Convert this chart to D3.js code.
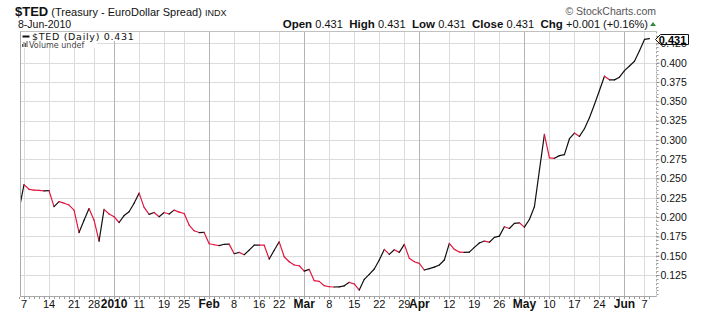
<!DOCTYPE html>
<html>
<head>
<meta charset="utf-8">
<script src="https://cdnjs.cloudflare.com/ajax/libs/d3/7.8.5/d3.min.js"></script>
<style>
	body { margin: 0; background: #fff; }
	svg { display: block; font-family: "Liberation Sans", Arial, sans-serif; }
</style>
</head>
<body>
<div id="chart"></div>
<script>
//------------------------------------------------------------------------------
// Data: $TED daily close, 4-Dec-2009 .. 8-Jun-2010
//------------------------------------------------------------------------------

var first_day = "2009-12-04";
var last_day = "2010-06-08";
var holidays = ["2009-12-25", "2010-01-01", "2010-01-18", "2010-02-15", "2010-04-02", "2010-05-31"];

var ted_close = [
	0.209,
	0.242, 0.236, 0.235, 0.2345, 0.234,
	0.2343, 0.2135, 0.220, 0.218, 0.2156,
	0.209, 0.180, 0.196, 0.211,
	0.196, 0.169, 0.210, 0.204,
	0.2005, 0.193, 0.202, 0.207, 0.218,
	0.231, 0.2126, 0.2036, 0.206, 0.2005,
	0.206, 0.204, 0.209, 0.2065,
	0.2047, 0.1897, 0.1823, 0.180, 0.1802,
	0.1655, 0.1642, 0.163, 0.1648, 0.165,
	0.1526, 0.1543, 0.1513, 0.1573, 0.1638,
	0.1638, 0.1636, 0.1457, 0.157,
	0.168, 0.1487, 0.1422, 0.138, 0.137,
	0.130, 0.1323, 0.1177, 0.1168, 0.1112,
	0.1098, 0.1095, 0.1097, 0.111, 0.1155,
	0.1134, 0.1056, 0.1194, 0.1258, 0.1328,
	0.1444, 0.1582, 0.1517, 0.1578, 0.1543,
	0.1647, 0.1466, 0.1422,
	0.140,
	0.1315, 0.1332, 0.1353, 0.138, 0.1444,
	0.166, 0.1582, 0.1547, 0.1543, 0.1547,
	0.1608, 0.1665, 0.169, 0.1675, 0.1737,
	0.1754, 0.1875, 0.1853, 0.1918, 0.1926,
	0.1870, 0.1969, 0.2133, 0.2606, 0.307,
	0.2766, 0.2761, 0.2796, 0.2809, 0.3015,
	0.3088, 0.3045, 0.3144, 0.3286, 0.3458,
	0.3639, 0.3824, 0.3777, 0.3777, 0.3811,
	0.3897, 0.3957, 0.4018, 0.4155,
	0.430, 0.431
];

var tick_dates = ["2009-12-07", "2009-12-14", "2009-12-21", "2009-12-28", "2010-01-04", "2010-01-11",
	"2010-01-19", "2010-01-25", "2010-02-01", "2010-02-08", "2010-02-16", "2010-02-22", "2010-03-01",
	"2010-03-08", "2010-03-15", "2010-03-22", "2010-03-29", "2010-04-01", "2010-04-12", "2010-04-19",
	"2010-04-26", "2010-05-03", "2010-05-10", "2010-05-17", "2010-05-24", "2010-06-01", "2010-06-07"];
var tick_labels = ["7", "14", "21", "28", "2010", "11", "19", "25", "Feb", "8", "16", "22", "Mar",
	"8", "15", "22", "29", "Apr", "12", "19", "26", "May", "10", "17", "24", "Jun", "7"];
var month_labels = ["2010", "Feb", "Mar", "Apr", "May", "Jun"];

var y_ticks = [0.125, 0.150, 0.175, 0.200, 0.225, 0.250, 0.275, 0.300, 0.325, 0.350, 0.375, 0.400, 0.425];

var last_close = "0.431";
var header_quote = [["Open", "0.431"], ["High", "0.431"], ["Low", "0.431"], ["Close", "0.431"], ["Chg", "+0.001 (+0.16%)"]];


//------------------------------------------------------------------------------
// Plotting
//------------------------------------------------------------------------------

function trading_days() {
	var fmt = d3.timeFormat("%Y-%m-%d");
	var start = d3.timeParse("%Y-%m-%d")(first_day);
	var end = d3.timeDay.offset(d3.timeParse("%Y-%m-%d")(last_day), 1);
	return d3.timeDay.range(start, end)
		.filter(function(d) { return d.getDay() != 0 && d.getDay() != 6; })
		.map(fmt)
		.filter(function(s) { return holidays.indexOf(s) < 0; });
}

function plot_ted(div) {
	var width = 706, height = 318;
	var left = 20, right = 656.5, top = 31.5, bottom = 296.5;

	var days = trading_days();
	var data = ted_close.map(function(v, i) { return {day: days[i], i: i, v: v}; });

	var svg = d3.select(div).append("svg")
		.attr("width", width)
		.attr("height", height);

	svg.append("rect").attr("width", width).attr("height", height).attr("fill", "#fff");

	// index of trading day -> pixel
	var x = d3.scaleLinear()
		.domain([0.2, 127.4])
		.range([left, right]);

	var y = d3.scaleLinear()
		.domain([0.0972, 0.4403])
		.range([bottom, top]);

	var grid = svg.append("g");

	grid.selectAll("line.h").data(y_ticks).join("line")
		.attr("x1", left).attr("x2", right)
		.attr("y1", function(d) { return Math.round(y(d)) + 0.5; })
		.attr("y2", function(d) { return Math.round(y(d)) + 0.5; })
		.attr("stroke", "#dcdcdc");

	var ticks = tick_dates.map(function(d, k) {
		return {i: days.indexOf(d), label: tick_labels[k], month: month_labels.indexOf(tick_labels[k]) >= 0};
	});

	grid.selectAll("line.v").data(ticks).join("line")
		.attr("x1", function(d) { return Math.round(x(d.i)) + 0.5; })
		.attr("x2", function(d) { return Math.round(x(d.i)) + 0.5; })
		.attr("y1", top).attr("y2", bottom)
		.attr("stroke", function(d) { return d.month ? "#b4b4b4" : "#dcdcdc"; });

	// frame
	svg.append("line").attr("x1", left + 0.5).attr("x2", left + 0.5).attr("y1", top).attr("y2", bottom)
		.attr("stroke", "#a8a8a8");
	svg.append("line").attr("x1", left).attr("x2", right).attr("y1", top).attr("y2", top)
		.attr("stroke", "#c0c0c0");
	svg.append("line").attr("x1", left).attr("x2", right).attr("y1", bottom).attr("y2", bottom)
		.attr("stroke", "#a8a8a8");
	svg.append("line").attr("x1", right).attr("x2", right).attr("y1", top).attr("y2", bottom)
		.attr("stroke", "#a8a8a8").attr("stroke-dasharray", "2,2");

	// day ticks along the bottom
	svg.selectAll("line.dt").data(d3.range(days.length)).join("line")
		.attr("x1", function(i) { return Math.round(x(i)) + 0.5; })
		.attr("x2", function(i) { return Math.round(x(i)) + 0.5; })
		.attr("y1", bottom + 0.5).attr("y2", bottom + 2.5)
		.attr("stroke", "#999");

	// minor ticks on the right axis
	svg.selectAll("line.mt").data(d3.range(0.100, 0.440, 0.005)).join("line")
		.attr("x1", right).attr("x2", right + 2)
		.attr("y1", function(d) { return Math.round(y(d)) + 0.5; })
		.attr("y2", function(d) { return Math.round(y(d)) + 0.5; })
		.attr("stroke", "#999");

	// price line, black on up days, red on down days
	svg.append("clipPath").attr("id", "plot_clip")
		.append("rect").attr("x", left + 1).attr("y", top).attr("width", right - left - 1).attr("height", bottom - top);

	var line = d3.line()
		.x(function(d) { return x(d.i); })
		.y(function(d) { return y(d.v); });

	var pairs = d3.pairs(data);
	svg.append("g").attr("clip-path", "url(#plot_clip)")
		.selectAll("path").data(pairs).join("path")
		.attr("d", line)
		.attr("fill", "none")
		.attr("stroke-width", 1.2)
		.attr("stroke-linecap", "round")
		.attr("stroke", function(p) { return p[1].v < p[0].v ? "#e3173f" : "#111"; });

	// x axis labels
	svg.selectAll("text.xl").data(ticks).join("text")
		.attr("x", function(d) { return x(d.i); })
		.attr("y", 308)
		.attr("text-anchor", "middle")
		.attr("font-size", function(d) { return d.month ? "12px" : "11px"; })
		.attr("font-weight", function(d) { return d.month ? "bold" : "normal"; })
		.attr("fill", "#111")
		.text(function(d) { return d.label; });

	// y axis
	var y_axis = d3.axisRight(y)
		.tickValues(y_ticks)
		.tickSize(3)
		.tickPadding(1)
		.tickFormat(d3.format(".3f"));

	var gy = svg.append("g")
		.attr("transform", "translate(" + right + ",0)")
		.call(y_axis);
	gy.select(".domain").remove();
	gy.selectAll("line").attr("stroke", "#888");
	gy.selectAll("text").attr("font-size", "10.5px").attr("font-family", "Liberation Sans, Arial, sans-serif").attr("fill", "#111");

	// last value marker
	var ly = Math.round(y(+last_close)) + 0.5;
	svg.append("path")
		.attr("d", "M" + (right - 1) + "," + ly + " L" + (right + 4) + "," + (ly - 5) + " L" + 688.5 + "," + (ly - 5) +
			" L" + 688.5 + "," + (ly + 5) + " L" + (right + 4) + "," + (ly + 5) + " Z")
		.attr("fill", "#fff").attr("stroke", "#111");
	svg.append("text").attr("x", 672.5).attr("y", ly + 4)
		.attr("text-anchor", "middle").attr("font-size", "11px").attr("font-weight", "bold")
		.text(last_close);

	// legend
	svg.append("rect").attr("x", left + 1).attr("y", top + 0.5).attr("width", 118).attr("height", 9).attr("fill", "#fff");
	svg.append("rect").attr("x", left + 1).attr("y", top + 9.5).attr("width", 76).attr("height", 7).attr("fill", "#fff");
	svg.append("line").attr("x1", 22.5).attr("x2", 29.5).attr("y1", 36.5).attr("y2", 36.5)
		.attr("stroke", "#111").attr("stroke-width", 2);
	svg.append("text").attr("x", 32).attr("y", 39.5)
		.attr("font-family", "DejaVu Sans, sans-serif").attr("font-size", "9.5px")
		.attr("letter-spacing", "0.7px").attr("fill", "#111")
		.text("$TED (Daily) " + last_close);
	svg.selectAll("rect.vb").data([3, 5, 4, 6]).join("rect")
		.attr("x", function(d, k) { return 22 + k * 1.5; })
		.attr("y", function(d) { return 47 - d; })
		.attr("width", 1).attr("height", function(d) { return d; })
		.attr("fill", "#555");
	svg.append("text").attr("x", 29).attr("y", 47.5)
		.attr("font-family", "DejaVu Sans, sans-serif").attr("font-size", "8px").attr("fill", "#444")
		.text("Volume undef");

	// header
	var title = svg.append("text").attr("x", 15).attr("y", 16).attr("fill", "#111");
	title.append("tspan").attr("font-size", "13px").attr("font-weight", "bold").text("$TED");
	title.append("tspan").attr("font-size", "11px").text(" (Treasury - EuroDollar Spread) ");
	title.append("tspan").attr("font-size", "9px").text("INDX");

	svg.append("text").attr("x", 18).attr("y", 27.5).attr("font-size", "10.5px").attr("fill", "#111")
		.text("8-Jun-2010");

	svg.append("text").attr("x", 656).attr("y", 15).attr("text-anchor", "end")
		.attr("font-size", "10.5px").attr("fill", "#555")
		.text("\u00a9 StockCharts.com");

	var quote = svg.append("text").attr("x", 648).attr("y", 27.5).attr("text-anchor", "end").attr("fill", "#111")
		.attr("xml:space", "preserve");
	header_quote.forEach(function(q, k) {
		quote.append("tspan").attr("font-size", "11.5px").attr("font-weight", "bold").text((k ? "  " : "") + q[0] + " ");
		quote.append("tspan").attr("font-size", "11px").text(q[1]);
	});

	svg.append("path").attr("d", "M650,26 L653,22 L656,26 Z").attr("fill", "#2e8b3a");
}


//------------------------------------------------------------------------------
// Main
//------------------------------------------------------------------------------

function main() {
	plot_ted(document.getElementById("chart"));
}

window.addEventListener('load', main, false);
</script>
</body>
</html>
